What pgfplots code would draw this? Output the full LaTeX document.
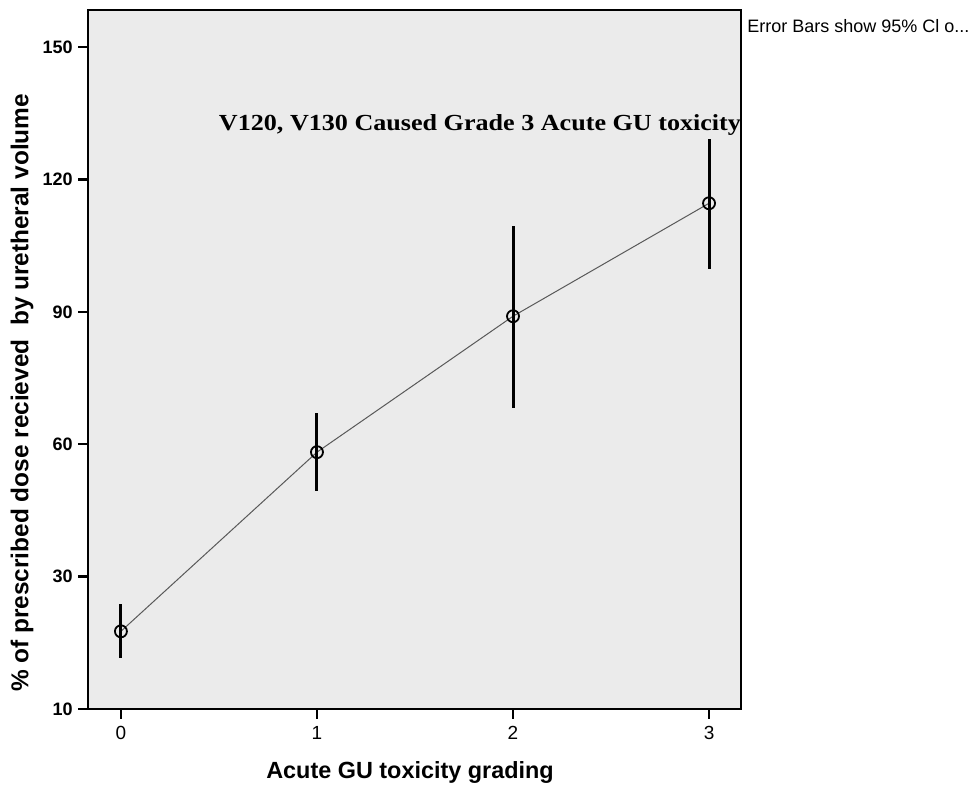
\documentclass[border=0pt]{standalone}
\usepackage{pgfplots}
\pgfplotsset{compat=1.18}
\usepackage{fontspec}
\setmainfont{Liberation Sans}
\newfontfamily\annfont{Liberation Serif}
\definecolor{bggray}{HTML}{EBEBEB}
\begin{document}
\begin{tikzpicture}
\begin{axis}[
  at={(0,0)}, anchor=south west,
  scale only axis, width=326.5pt, height=349.5pt,
  xmin=-0.168, xmax=3.163, ymin=0, ymax=158.4,
  axis background/.style={fill=bggray},
  axis line style={line width=1.2pt},
  tick align=outside, major tick length=5pt,
  tick style={line width=1.2pt, black},
  xtick={0,1,2,3},
  ytick={0,30,60,90,120,150}, yticklabels={10,30,60,90,120,150},
  xtick pos=bottom, ytick pos=left,
  /pgf/number format/assume math mode=true,
  yticklabel style={font=\bfseries\fontsize{9}{10}\selectfont, xshift=0.8pt},
  xticklabel style={font=\fontsize{9.5}{11}\selectfont},
  clip=false,
]
\addplot[gray!70!black, line width=0.5pt, mark=o, mark size=3pt,
  mark options={black, line width=0.9pt, solid},
  error bars/.cd, y dir=both, y explicit, error mark=none,
  error bar style={black, line width=1.5pt}]
  table[x=g, y=m, y error plus=ep, y error minus=em] {
g m ep em
0 17.6 6.1 6.1
1 58.2 8.8 8.9
2 89.0 20.4 20.9
3 114.6 14.5 14.9
};
\end{axis}
% labels (1 px of the reference = 0.5pt, origin at the axis' lower left corner)
\node[rotate=90, font=\bfseries\fontsize{12.2}{14}\selectfont] at (-33pt,158pt)
  {\% of prescribed dose recieved\ \ by uretheral volume};
\node[font=\bfseries\fontsize{11.7}{13}\selectfont] at (161pt,-32pt) {Acute GU toxicity grading};
\node[anchor=west, inner sep=0pt, font=\fontsize{9}{10}\selectfont] at (329.5pt,341.5pt) {Error Bars show 95\% Cl o...};
\node[font=\annfont\bfseries\fontsize{11.5}{13}\selectfont, xscale=1.135] at (196pt,292pt)
  {V120, V130 Caused Grade 3 Acute GU toxicity};
\pgfresetboundingbox
\useasboundingbox (-44pt,-38.5pt) rectangle (441.5pt,354.5pt);
\end{tikzpicture}
\end{document}
